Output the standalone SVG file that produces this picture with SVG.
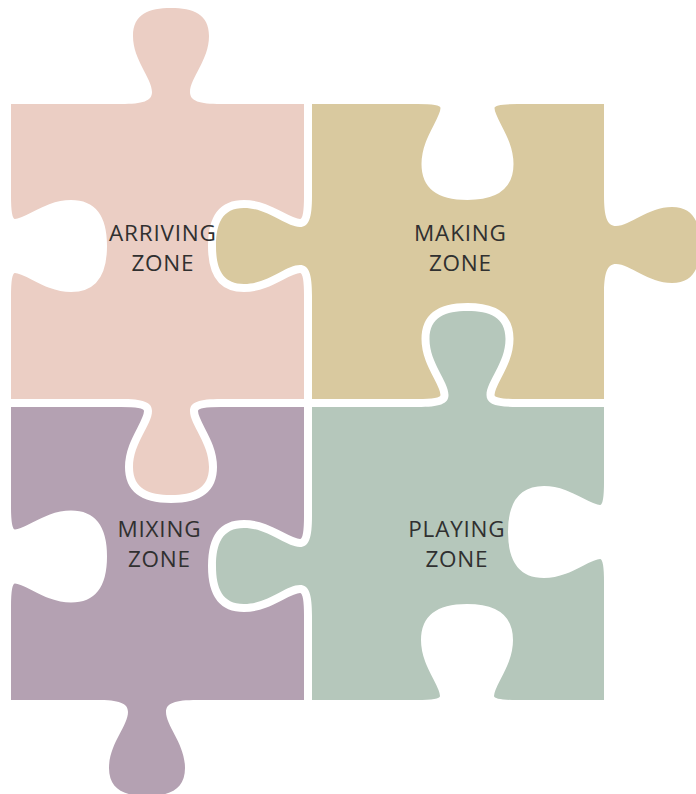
<svg xmlns="http://www.w3.org/2000/svg" xmlns:xlink="http://www.w3.org/1999/xlink" width="696" height="794" viewBox="0 0 696 794">
  <style>
    .hole { fill: #ffffff; stroke: #ffffff; stroke-width: 16; stroke-linejoin: round; }
    .lbl { font-family: "Open Sans", "Liberation Sans", sans-serif; font-size: 22.5px; letter-spacing: 0.8px; fill: #303030; text-anchor: middle; }
    .arr { fill: #EBCEC4; }
    .mak { fill: #D9C99F; }
    .mix { fill: #B4A1B2; }
    .pla { fill: #B5C7BB; }
  </style>
  <defs>
    <path id="tabEdge" d="M -50,0 C -28,0 -19,-3 -19,-12 C -19,-26 -38,-44 -38,-68 C -38,-90 -22,-96 0,-96 C 22,-96 38,-90 38,-68 C 38,-44 19,-26 19,-12 C 19,-3 28,0 50,0"/>
    <path id="tabFill" d="M -50,0 C -28,0 -19,-3 -19,-12 C -19,-26 -38,-44 -38,-68 C -38,-90 -22,-96 0,-96 C 22,-96 38,-90 38,-68 C 38,-44 19,-26 19,-12 C 19,-3 28,0 50,0 L 50,6 L -50,6 Z"/>
  </defs>
  <rect width="696" height="794" fill="#ffffff"/>

  <g id="mixing-zone">
    <rect class="mix" x="11" y="407" width="293" height="293"/>
    <use xlink:href="#tabEdge" class="hole" transform="translate(3,556.5) rotate(90)"/>
    <use xlink:href="#tabEdge" class="hole" transform="translate(171,399) rotate(180)"/>
    <use xlink:href="#tabEdge" class="hole" transform="translate(312,566) rotate(-90)"/>
    <use xlink:href="#tabFill" class="mix" transform="translate(147,700) rotate(180)"/>
    <text class="lbl" x="159.4" y="537">MIXING</text>
    <text class="lbl" x="159.4" y="567">ZONE</text>
  </g>

  <g id="arriving-zone">
    <rect class="arr" x="11" y="104" width="293" height="295"/>
    <use xlink:href="#tabEdge" class="hole" transform="translate(3,246) rotate(90)"/>
    <use xlink:href="#tabEdge" class="hole" transform="translate(312,246) rotate(-90)"/>
    <use xlink:href="#tabFill" class="arr" transform="translate(171,104)"/>
    <use xlink:href="#tabFill" class="arr" transform="translate(171,399) rotate(180)"/>
    <text class="lbl" x="162.9" y="241">ARRIVING</text>
    <text class="lbl" x="162.9" y="271">ZONE</text>
  </g>

  <g id="making-zone">
    <rect class="mak" x="312" y="104" width="292" height="295"/>
    <use xlink:href="#tabEdge" class="hole" transform="translate(467.5,96) rotate(180)"/>
    <use xlink:href="#tabEdge" class="hole" transform="translate(467.5,407)"/>
    <use xlink:href="#tabFill" class="mak" transform="translate(312,246) rotate(-90)"/>
    <use xlink:href="#tabFill" class="mak" transform="translate(604,245) rotate(90)"/>
    <text class="lbl" x="460.4" y="241">MAKING</text>
    <text class="lbl" x="460.4" y="271">ZONE</text>
  </g>

  <g id="playing-zone">
    <rect class="pla" x="312" y="407" width="292" height="293"/>
    <use xlink:href="#tabEdge" class="hole" transform="translate(612,532) rotate(-90)"/>
    <use xlink:href="#tabEdge" class="hole" transform="translate(467,708)"/>
    <use xlink:href="#tabFill" class="pla" transform="translate(467.5,407)"/>
    <use xlink:href="#tabFill" class="pla" transform="translate(312,566) rotate(-90)"/>
    <text class="lbl" x="456.9" y="537">PLAYING</text>
    <text class="lbl" x="456.9" y="567">ZONE</text>
  </g>

  <g id="connectors"></g>
</svg>
